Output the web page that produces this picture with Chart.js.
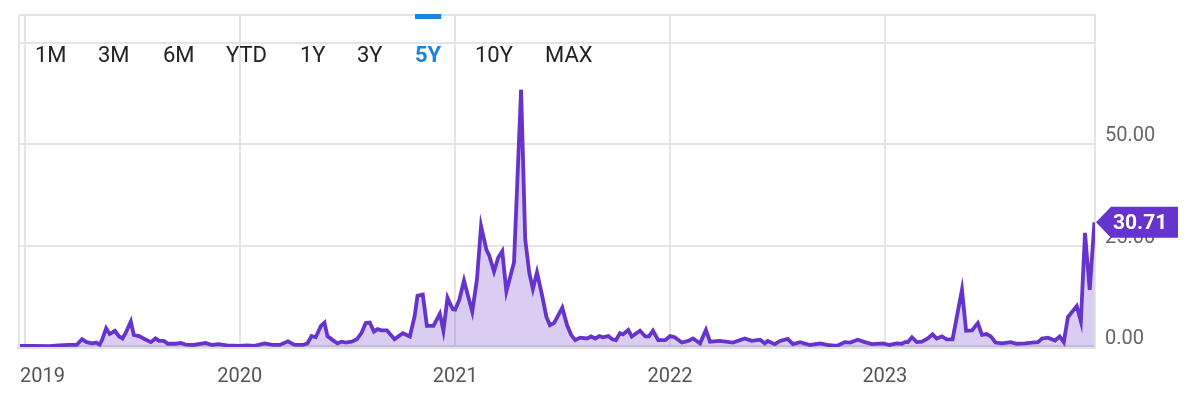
<!DOCTYPE html>
<html>
<head>
<meta charset="utf-8">
<script src="https://cdn.jsdelivr.net/npm/chart.js@4.4.1/dist/chart.umd.min.js"></script>
<style>
  body { margin: 0; background: #fff; }
</style>
</head>
<body>
<canvas id="myChart" width="1188" height="402"></canvas>
<script>
const dates = [
  '2018-12-22','2019-01-15','2019-02-11','2019-02-28','2019-03-17','2019-03-30','2019-04-08','2019-04-16','2019-04-25',
  '2019-05-02','2019-05-08','2019-05-12','2019-05-19','2019-05-25','2019-06-03','2019-06-10','2019-06-16','2019-06-21',
  '2019-06-30','2019-07-05','2019-07-14','2019-07-24','2019-08-03','2019-08-11','2019-08-17','2019-08-25','2019-09-01',
  '2019-09-14','2019-09-23','2019-10-01','2019-10-15','2019-10-23','2019-11-04','2019-11-15','2019-11-26','2019-12-10',
  '2020-01-01','2020-01-13','2020-01-26','2020-02-12','2020-02-26','2020-03-09','2020-03-23','2020-04-03','2020-04-17',
  '2020-04-25','2020-05-02','2020-05-09','2020-05-18','2020-05-24','2020-05-29','2020-06-07','2020-06-15','2020-06-22',
  '2020-06-29','2020-07-09','2020-07-18','2020-07-26','2020-08-02','2020-08-09','2020-08-16','2020-08-22','2020-08-29',
  '2020-09-07','2020-09-20','2020-10-04','2020-10-16','2020-10-24','2020-10-29','2020-11-07','2020-11-14','2020-11-25',
  '2020-12-06','2020-12-12','2020-12-19','2020-12-28',
  '2021-01-01','2021-01-08','2021-01-16','2021-01-23','2021-01-30','2021-02-07','2021-02-14','2021-02-23','2021-02-28',
  '2021-03-08','2021-03-15','2021-03-22','2021-03-29','2021-04-04','2021-04-11','2021-04-23','2021-04-30','2021-05-07',
  '2021-05-13','2021-05-20','2021-05-29','2021-06-05','2021-06-11','2021-06-18','2021-07-02','2021-07-10','2021-07-17',
  '2021-07-24','2021-08-01','2021-08-13','2021-08-20','2021-08-27','2021-09-03','2021-09-09','2021-09-18','2021-09-25',
  '2021-10-01','2021-10-08','2021-10-13','2021-10-22','2021-10-28','2021-11-11','2021-11-20','2021-11-26','2021-12-03',
  '2021-12-12','2021-12-24',
  '2022-01-01','2022-01-09','2022-01-21','2022-02-01','2022-02-09','2022-02-21','2022-03-03','2022-03-10','2022-03-27',
  '2022-04-18','2022-05-08','2022-05-20','2022-06-03','2022-06-11','2022-06-16','2022-06-28','2022-07-07','2022-07-20',
  '2022-07-29','2022-08-10','2022-08-27','2022-09-13','2022-09-25','2022-10-12','2022-10-25','2022-11-03','2022-11-16',
  '2022-11-28','2022-12-10','2022-12-29',
  '2023-01-09','2023-01-21','2023-01-30','2023-02-04','2023-02-09','2023-02-16','2023-02-24','2023-03-05','2023-03-15',
  '2023-03-23','2023-03-30','2023-04-08','2023-04-16','2023-04-26','2023-05-12','2023-05-19','2023-05-29','2023-06-08',
  '2023-06-15','2023-06-23','2023-06-30','2023-07-08','2023-07-19','2023-08-03','2023-08-13','2023-08-27','2023-09-08',
  '2023-09-18','2023-09-25','2023-10-05','2023-10-17','2023-10-25','2023-11-01','2023-11-08','2023-11-23','2023-11-30',
  '2023-12-07','2023-12-15','2023-12-23'
];
const values = [
  0.3, 0.3, 0.2, 0.4, 0.5, 0.5, 1.9, 1.2, 0.9,
  1.1, 0.6, 1.7, 4.6, 3.2, 4.0, 2.6, 2.1, 3.4,
  6.3, 3.0, 2.7, 1.9, 1.2, 2.1, 1.5, 1.5, 0.8,
  0.8, 1.0, 0.6, 0.5, 0.7, 1.0, 0.5, 0.7, 0.4,
  0.3, 0.4, 0.3, 0.9, 0.5, 0.5, 1.4, 0.5, 0.5,
  0.9, 2.7, 2.4, 5.2, 6.0, 2.7, 1.7, 0.9, 1.3,
  1.1, 1.3, 1.9, 3.5, 5.9, 6.0, 3.8, 4.4, 4.1,
  4.1, 1.9, 3.4, 2.6, 7.5, 12.6, 12.9, 5.2, 5.2,
  8.2, 4.0, 12.1, 9.3,
  9.2, 11.6, 16.4, 12.5, 8.7, 16.6, 29.8, 24.0, 22.5,
  18.6, 22.0, 23.6, 13.7, 17.0, 20.9, 63.4, 26.5, 18.2,
  14.3, 18.4, 12.5, 7.4, 5.4, 5.9, 9.7, 5.4, 3.0,
  1.7, 2.3, 2.1, 2.6, 2.1, 2.7, 2.4, 2.7, 1.9,
  1.7, 3.4, 3.1, 4.2, 2.6, 4.0, 2.6, 2.6, 4.0,
  1.7, 1.7,
  2.7, 2.4, 1.1, 1.5, 2.1, 0.9, 4.2, 1.3, 1.5,
  1.1, 2.1, 1.5, 1.8, 0.9, 1.5, 0.7, 1.5, 2.0,
  0.7, 1.2, 0.5, 0.9, 0.5, 0.3, 1.2, 1.1, 1.8,
  1.2, 0.7, 0.9,
  0.5, 0.9, 0.8, 1.2, 1.2, 2.4, 1.2, 1.3, 2.1,
  3.1, 2.1, 2.6, 1.9, 1.9, 14.1, 4.0, 4.1, 5.9,
  3.0, 3.2, 2.6, 1.1, 0.9, 1.2, 0.8, 0.9, 1.1,
  1.2, 2.1, 2.3, 1.6, 2.6, 1.2, 7.4, 10.1, 6.3,
  28.1, 14.1, 30.71
];
const years = [2019, 2020, 2021, 2022, 2023];
const yTicks = [0, 25, 50, 75];
const ranges = ['1M', '3M', '6M', 'YTD', '1Y', '3Y', '5Y', '10Y', 'MAX'];
const activeRange = '5Y';

const rangeX = [35, 98, 163, 226, 300, 357, 415, 475, 545];
const gridColor = '#e4e4e4';
const purple = '#6633cc';
const lastValue = values[values.length - 1];

const ctx = document.getElementById('myChart');
const points = dates.map((d, i) => ({ x: Date.parse(d), y: values[i] }));

const extras = {
  id: 'extras',
  afterDraw(chart) {
    const c = chart.ctx;
    const area = chart.chartArea;
    const xs = chart.scales.x;
    const ys = chart.scales.y;
    c.save();

    // top and left frame
    c.strokeStyle = gridColor;
    c.lineWidth = 2;
    c.beginPath();
    c.moveTo(area.left, area.top);
    c.lineTo(area.right, area.top);
    c.moveTo(area.left, area.top);
    c.lineTo(area.left, area.bottom);
    c.stroke();

    // year labels, first one kept inside the plot
    c.font = '20px Roboto';
    c.fillStyle = '#555';
    c.textAlign = 'left';
    c.textBaseline = 'alphabetic';
    years.forEach(y => {
      const label = String(y);
      const w = c.measureText(label).width;
      let px = xs.getPixelForValue(Date.UTC(y, 0, 1)) - w / 2;
      if (px < area.left + 1) px = area.left + 1;
      c.fillText(label, px, 382);
    });

    // range selector
    ranges.forEach((r, i) => {
      const active = r === activeRange;
      c.font = (active ? 'bold ' : '') + '22px Roboto';
      c.fillStyle = active ? '#1a84e0' : '#222';
      c.fillText(r, rangeX[i], 62);
      if (active) {
        c.fillRect(rangeX[i], 14, c.measureText(r).width, 5);
      }
    });

    // last value badge
    const by = ys.getPixelForValue(lastValue);
    c.fillStyle = purple;
    c.beginPath();
    c.moveTo(area.right + 1, by);
    c.lineTo(area.right + 16, by - 15.5);
    c.lineTo(1178, by - 15.5);
    c.lineTo(1178, by + 15.5);
    c.lineTo(area.right + 16, by + 15.5);
    c.closePath();
    c.fill();
    c.fillStyle = '#fff';
    c.font = 'bold 21px Roboto';
    c.textBaseline = 'middle';
    c.fillText(lastValue.toFixed(2), 1113, by + 1);

    c.restore();
  }
};

new Chart(ctx, {
  type: 'line',
  data: {
    datasets: [{
      data: points,
      borderColor: purple,
      borderWidth: 3.8,
      backgroundColor: 'rgba(103, 58, 200, 0.25)',
      fill: 'origin',
      pointRadius: 0,
      tension: 0
    }]
  },
  options: {
    responsive: false,
    animation: false,
    layout: { padding: { left: 19, top: 15 } },
    plugins: {
      legend: { display: false },
      tooltip: { enabled: false }
    },
    scales: {
      x: {
        type: 'linear',
        min: Date.parse('2018-12-22'),
        max: Date.parse('2023-12-24'),
        afterBuildTicks: s => { s.ticks = years.map(y => ({ value: Date.UTC(y, 0, 1) })); },
        afterFit: s => { s.height = 55; s.paddingLeft = 0; s.paddingRight = 0; },
        ticks: { display: false },
        grid: { color: gridColor, lineWidth: 2, drawTicks: false },
        border: { color: '#e2e2e2', width: 4 }
      },
      y: {
        position: 'right',
        min: 0,
        max: 81.8,
        afterBuildTicks: s => { s.ticks = yTicks.map(v => ({ value: v })); },
        afterFit: s => { s.width = 93; s.paddingTop = 0; s.paddingBottom = 0; },
        ticks: {
          padding: 10,
          labelOffset: -8,
          color: '#666',
          font: { family: 'Roboto', size: 20 },
          callback: v => v > 60 ? '' : v.toFixed(2)
        },
        grid: { color: gridColor, lineWidth: 2, drawTicks: false },
        border: { color: gridColor, width: 2 }
      }
    }
  },
  plugins: [extras]
});
</script>
</body>
</html>
